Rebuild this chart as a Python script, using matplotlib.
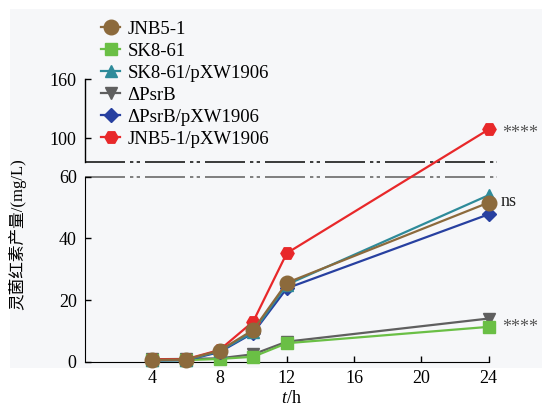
import numpy as np
import matplotlib
matplotlib.use("Agg")
import matplotlib.pyplot as plt
from matplotlib.patches import Rectangle

plt.rcParams['font.family'] = ['Liberation Serif', 'Noto Sans CJK SC']
plt.rcParams['mathtext.fontset'] = 'custom'
plt.rcParams['mathtext.rm'] = 'Liberation Serif'
plt.rcParams['mathtext.it'] = 'Liberation Serif:italic'

# datos
horas = [4, 6, 8, 10, 12, 24]
cepas = ['JNB5-1', 'SK8-61', 'SK8-61/pXW1906', 'ΔPsrB', 'ΔPsrB/pXW1906', 'JNB5-1/pXW1906']
jnb5_1 = [0.6, 0.7, 3.6, 10.3, 25.6, 51.6]
sk8_61 = [0.4, 0.5, 0.9, 1.6, 6.0, 11.3]
sk8_61_pxw = [0.5, 0.5, 3.4, 9.6, 25.0, 54.0]
psrb = [0.8, 0.9, 1.1, 2.4, 6.5, 14.0]
psrb_pxw = [0.4, 0.5, 3.1, 9.3, 23.8, 47.8]
jnb5_1_pxw = [0.8, 0.8, 3.8, 13.0, 35.2, 109.0]
yticks = [0, 20, 40, 60, 100, 160]
xticks = [4, 8, 12, 16, 20, 24]
signif = ['****', 'ns', '****']
signif_y = [109.0, 52.0, 12.5]

colores = ['#8c6a3c', '#6abf45', '#2e8b9a', '#5f5f5f', '#2740a0', '#e8282a']
marcadores = ['o', 's', '^', 'v', 'D', 'H']
tamanos = [10.5, 8, 9, 9, 7, 9.5]
zorders = [8, 4, 6, 3, 5, 7]

# eje con corte: 0-60 normal, 60-76.2 comprimido, >76.2 escala reducida
CORTE_BAJO, CORTE_ALTO = 60.0, 76.2
HUECO = 4.865
FACTOR = 0.319


def directa(y):
    y = np.asarray(y, dtype=float)
    medio = CORTE_BAJO + (y - CORTE_BAJO) * HUECO / (CORTE_ALTO - CORTE_BAJO)
    alto = CORTE_BAJO + HUECO + (y - CORTE_ALTO) * FACTOR
    return np.where(y <= CORTE_BAJO, y, np.where(y <= CORTE_ALTO, medio, alto))


def inversa(v):
    v = np.asarray(v, dtype=float)
    medio = CORTE_BAJO + (v - CORTE_BAJO) * (CORTE_ALTO - CORTE_BAJO) / HUECO
    alto = CORTE_ALTO + (v - CORTE_BAJO - HUECO) / FACTOR
    return np.where(v <= CORTE_BAJO, v, np.where(v <= CORTE_BAJO + HUECO, medio, alto))


fig = plt.figure(figsize=(5.43, 4.15), dpi=100)
fondo = Rectangle((10 / 543, 1 - 368 / 415), 532 / 543, 359 / 415,
                  transform=fig.transFigure, facecolor='#f6f7f9',
                  edgecolor='none', zorder=-10)
fig.patches.append(fondo)
ax = fig.add_axes([85 / 543, 53.3 / 415, 412 / 543, 282.4 / 415])
ax.set_facecolor('none')
ax.set_yscale('function', functions=(directa, inversa))

series = [jnb5_1, sk8_61, sk8_61_pxw, psrb, psrb_pxw, jnb5_1_pxw]
for nombre, vals, c, m, s, z in zip(cepas, series, colores, marcadores, tamanos, zorders):
    ax.plot(horas, vals, color=c, marker=m, markersize=s, lw=1.6,
            label=nombre, zorder=z, clip_on=False)

ax.set_xlim(0, 24.5)
ax.set_ylim(0, 160)
ax.set_xticks(xticks)
ax.set_yticks(yticks)
ax.set_yticklabels([str(t) for t in yticks])
ax.tick_params(direction='in', length=4, width=1, labelsize=13, pad=6)
ax.spines['top'].set_visible(False)
ax.spines['right'].set_visible(False)
ax.spines['bottom'].set_bounds(0, 24)
ax.spines['left'].set_bounds(0, 60)
ax.plot([0, 0], [CORTE_ALTO, 160], color='black', lw=1, clip_on=False, zorder=2)

# lineas del corte
patron = (0, (24, 3, 2, 2, 2, 3))
ax.plot([0, 24.5], [CORTE_ALTO, CORTE_ALTO], color='#1a1a1a', lw=1.2,
        linestyle=patron, clip_on=False, zorder=1)
ax.plot([0, 24.5], [CORTE_BAJO, CORTE_BAJO], color='#6a6a6a', lw=1.2,
        linestyle=patron, clip_on=False, zorder=1)

for etiqueta, yv in zip(signif, signif_y):
    if etiqueta == 'ns':
        ax.annotate(etiqueta, xy=(24, yv), xytext=(9, 0), textcoords='offset points',
                    fontsize=13, color='#222222', va='center', ha='left')
    else:
        ax.annotate(etiqueta, xy=(24, yv), xytext=(10, -6.5), textcoords='offset points',
                    fontsize=13, color='#555555', va='baseline', ha='left')

ax.set_xlabel('$t$/h', fontsize=13, labelpad=2)
ax.set_ylabel('灵菌红素产量/(mg/L)', fontsize=12)
ax.yaxis.set_label_coords(-0.142, 0.45)

ax.legend(loc='upper left', bbox_to_anchor=(92 / 543, 1 - 11 / 415),
          bbox_transform=fig.transFigure, frameon=False, fontsize=13.5,
          handlelength=1.0, handletextpad=0.4, labelspacing=0.26, borderpad=0)

fig.savefig('out.png', dpi=100)
